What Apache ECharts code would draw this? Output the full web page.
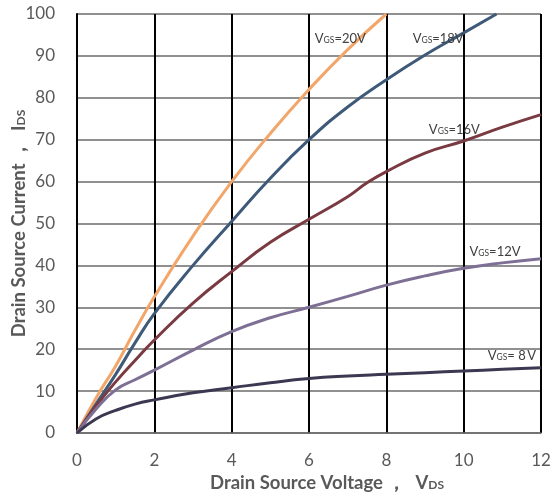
<!DOCTYPE html>
<html>
<head>
<meta charset="utf-8">
<script src="https://cdn.jsdelivr.net/npm/echarts@6/dist/echarts.min.js"></script>
<style>
  html, body { margin: 0; padding: 0; background: #fff; }
  #chart { width: 550px; height: 500px; }
</style>
</head>
<body>
<div id="chart"></div>
<script>
// Output characteristics: drain current vs drain-source voltage per gate voltage
const xTicks = { min: 0, max: 12, step: 2 };
const yTicks = { min: 0, max: 100, step: 10 };

const curve20V = [[0,0],[0.5,8.5],[1,16],[1.5,24.5],[2,32.5],[3,47],[4,60],[5,71.5],[6,82],[7,91.5],[8,100]];
const curve18V = [[0,0],[0.5,7],[1,14],[1.5,21.5],[2,28.5],[3,40],[4,50.5],[5,60.8],[6,70],[7,77.8],[8,84.3],[9,90.2],[10,95.5],[10.85,100]];
const curve16V = [[0,0],[0.5,6.5],[1,12.2],[1.5,17.3],[2,22.2],[3,31],[4,38.5],[5,45.5],[6,51],[7,56.4],[7.5,59.7],[8,62.4],[9,66.8],[10,69.7],[11,73],[12,76]];
const curve12V = [[0,0],[0.5,5.8],[1,10.3],[1.5,12.7],[2,15],[3,19.8],[4,24.2],[5,27.5],[6,30],[7,32.6],[8,35.3],[9,37.5],[10,39.3],[11,40.6],[12,41.6]];
const curve8V  = [[0,0],[0.5,3.4],[1,5.4],[1.5,6.9],[2,7.9],[3,9.6],[4,10.8],[5,12],[6,13],[7,13.6],[8,14],[9,14.4],[10,14.8],[11,15.2],[12,15.6]];

// Gate-voltage captions: [name, voltage text, anchor x, anchor y]
const captions = [
  ['20V', '=20V',   6.15, 94],
  ['18V', '=18V',   8.68, 94],
  ['16V', '=16V',   9.1,  72.3],
  ['12V', '=12V',   10.15, 43.2],
  ['8V',  '= 8\u2009V', 10.62, 18.4]
];

const seriesDefs = [
  { name: '20V', data: curve20V, color: '#f2a66a' },
  { name: '18V', data: curve18V, color: '#3e5a78' },
  { name: '16V', data: curve16V, color: '#7a3a42' },
  { name: '12V', data: curve12V, color: '#7e7095' },
  { name: '8V',  data: curve8V,  color: '#3d3852' }
];

const FONT = 'Lato, "Open Sans", sans-serif';

const chart = echarts.init(document.getElementById('chart'), null, { renderer: 'canvas' });

const series = seriesDefs.map(def => {
  const cap = captions.find(c => c[0] === def.name);
  return {
    name: def.name,
    type: 'line',
    data: def.data,
    smooth: 0.5,
    showSymbol: false,
    clip: true,
    lineStyle: { color: def.color, width: 3 },
    emphasis: { disabled: true },
    markPoint: {
      symbol: 'circle',
      symbolSize: 0,
      silent: true,
      data: [{
        coord: [cap[2], cap[3]],
        label: {
          show: true,
          position: 'right',
          distance: 0,
          formatter: '{v|V}{s|GS}{v|' + cap[1] + '}',
          rich: {
            v: { fontFamily: FONT, fontSize: 13, color: '#404040' },
            s: { fontFamily: FONT, fontSize: 8.5, color: '#404040', padding: [2, 0, 0, 0] }
          }
        }
      }]
    }
  };
});

const titleRich = {
  t: { fontFamily: FONT, fontSize: 18.5, fontWeight: 'bold', color: '#595959' },
  v: { fontFamily: FONT, fontSize: 18.5, fontWeight: 'bold', color: '#595959' },
  s: { fontFamily: FONT, fontSize: 12, fontWeight: 'bold', color: '#595959', padding: [4, 0, 0, 0] }
};

chart.setOption({
  animation: false,
  backgroundColor: '#ffffff',
  grid: { left: 77, right: 9, top: 14, bottom: 67, containLabel: false, outerBoundsMode: 'none' },
  xAxis: {
    type: 'value',
    min: xTicks.min, max: xTicks.max, interval: xTicks.step,
    name: '{t|Drain Source Voltage ，  }{v|V}{s|DS}',
    nameLocation: 'middle',
    nameGap: 41,
    nameMoveOverlap: false,
    nameTextStyle: { padding: [0, 0, 0, 36], rich: titleRich },
    axisLine: { show: true, lineStyle: { color: '#6b6b6b', width: 1.5 } },
    axisTick: { show: false },
    axisLabel: { fontFamily: FONT, fontSize: 17, color: '#595959', margin: 19 },
    splitLine: { show: true, lineStyle: { color: '#000000', width: 2 } }
  },
  yAxis: {
    type: 'value',
    min: yTicks.min, max: yTicks.max, interval: yTicks.step,
    name: '{t|Drain Source Current ，  }{v|I}{s|DS}',
    nameLocation: 'middle',
    nameGap: 48,
    nameMoveOverlap: false,
    nameRotate: 90,
    nameTextStyle: { rich: titleRich },
    axisLine: { show: true, lineStyle: { color: '#000000', width: 2 } },
    axisTick: { show: false },
    axisLabel: { fontFamily: FONT, fontSize: 17, color: '#595959', margin: 22 },
    splitLine: { show: true, lineStyle: { color: '#6b6b6b', width: 1.5 } }
  },
  series: series
});
</script>
</body>
</html>
